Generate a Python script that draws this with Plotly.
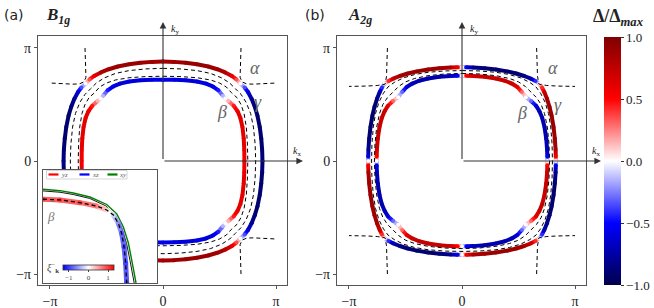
import plotly.graph_objects as go

# ---------------- data (momenta in units of pi) ----------------
# one octant of each sheet, from the k_y axis (theta = 90 deg) to the zone diagonal
gamma_a_x = [0.00, 0.10, 0.20, 0.30, 0.40, 0.48, 0.55, 0.61, 0.65, 0.685]
gamma_a_y = [0.880, 0.877, 0.869, 0.856, 0.836, 0.812, 0.784, 0.752, 0.722, 0.685]
gamma_a_gap = [0.85, 0.88, 0.90, 0.90, 0.90, 0.88, 0.80, 0.60, 0.35, 0.00]

beta_a_x = [0.00, 0.10, 0.20, 0.30, 0.38, 0.44, 0.49, 0.53, 0.552]
beta_a_y = [0.720, 0.719, 0.714, 0.703, 0.685, 0.660, 0.625, 0.578, 0.552]
beta_a_gap = [-0.55, -0.58, -0.60, -0.60, -0.60, -0.58, -0.45, -0.15, 0.00]

dash1_a_x = [0.00, 0.15, 0.30, 0.42, 0.52, 0.59, 0.64]
dash1_a_y = [0.820, 0.815, 0.800, 0.775, 0.735, 0.690, 0.640]
dash2_a_x = [0.00, 0.15, 0.30, 0.42, 0.50, 0.56, 0.605]
dash2_a_y = [0.750, 0.747, 0.737, 0.717, 0.690, 0.655, 0.605]
alpha_a_x = [0.69, 0.685, 0.68, 0.682, 0.70, 0.74, 0.80, 0.90, 1.00]
alpha_a_y = [1.00, 0.90, 0.80, 0.74, 0.70, 0.682, 0.68, 0.685, 0.69]

gamma_b_x = [0.00, 0.04, 0.10, 0.20, 0.30, 0.40, 0.48, 0.55, 0.61, 0.65, 0.685]
gamma_b_y = [0.830, 0.8297, 0.828, 0.821, 0.810, 0.793, 0.774, 0.752, 0.728, 0.708, 0.685]
gamma_b_gap = [0.00, -0.55, -0.82, -0.88, -0.90, -0.90, -0.88, -0.85, -0.72, -0.42, 0.00]

beta_b_x = [0.00, 0.04, 0.10, 0.20, 0.30, 0.38, 0.44, 0.49, 0.53, 0.565]
beta_b_y = [0.755, 0.7548, 0.753, 0.745, 0.730, 0.710, 0.685, 0.655, 0.610, 0.565]
beta_b_gap = [0.00, 0.50, 0.68, 0.72, 0.72, 0.72, 0.70, 0.62, 0.30, 0.00]

dash1_b_x = [0.00, 0.15, 0.30, 0.42, 0.52, 0.60, 0.655]
dash1_b_y = [0.800, 0.797, 0.785, 0.765, 0.735, 0.695, 0.655]
dash2_b_x = [0.00, 0.15, 0.30, 0.42, 0.50, 0.56, 0.61]
dash2_b_y = [0.775, 0.770, 0.755, 0.730, 0.700, 0.660, 0.610]
alpha_b_x = [0.66, 0.663, 0.668, 0.68, 0.75, 0.85, 1.00]
alpha_b_y = [1.00, 0.85, 0.75, 0.68, 0.668, 0.663, 0.66]

# inset (its own unit box)
inset_green_u = [0.000, 0.149, 0.266, 0.412, 0.559, 0.647, 0.705, 0.749, 0.778, 0.816]
inset_green_v = [0.829, 0.817, 0.796, 0.761, 0.695, 0.611, 0.496, 0.354, 0.204, 0.000]
inset_black_u = [0.000, 0.149, 0.266, 0.410, 0.550, 0.632, 0.690, 0.733, 0.763, 0.800]
inset_black_v = [0.815, 0.803, 0.783, 0.748, 0.683, 0.602, 0.490, 0.350, 0.200, 0.000]
inset_band_u = [0.000, 0.149, 0.325, 0.471, 0.559, 0.617, 0.661, 0.690, 0.711, 0.725, 0.734]
inset_band_v = [0.741, 0.735, 0.711, 0.681, 0.646, 0.602, 0.528, 0.440, 0.321, 0.174, 0.000]
inset_band_xi = [1.0, 1.0, 0.95, 0.70, 0.20, -0.20, -0.60, -0.85, -0.95, -1.0, -1.0]

main_ticks = [-1, 0, 1]
main_ticktext = ["\u2212\u03c0", "0", "\u03c0"]
cbar_ticks = [-1.0, -0.5, 0.0, 0.5, 1.0]
inset_cbar_ticks = [-1, 0, 1]

# ---------------- helpers ----------------
W, H = 654, 308
SEIS = [(0.0, (0, 0, 0.3)), (0.25, (0, 0, 1)), (0.5, (1, 1, 1)), (0.75, (1, 0, 0)), (1.0, (0.5, 0, 0))]
BWR = [(0.0, (0, 0, 1)), (0.5, (1, 1, 1)), (1.0, (1, 0, 0))]


def cmap(stops, t):
    t = min(max(t, 0.0), 1.0)
    for (t0, c0), (t1, c1) in zip(stops[:-1], stops[1:]):
        if t <= t1:
            f = (t - t0) / (t1 - t0)
            c = [c0[i] + f * (c1[i] - c0[i]) for i in range(3)]
            return "rgb(%d,%d,%d)" % tuple(round(255 * v) for v in c)
    c = stops[-1][1]
    return "rgb(%d,%d,%d)" % tuple(round(255 * v) for v in c)


def scale(stops):
    return [[t, cmap(stops, t)] for t, _ in stops]


def loop(xs, ys, gs=None, s_axis=1):
    if gs is None:
        gs = [0.0] * len(xs)
    oct1 = list(zip(xs, ys, gs))
    q1 = oct1 + [(y, x, -g) for (x, y, g) in reversed(oct1)][1:]
    q4 = [(x, -y, s_axis * g) for (x, y, g) in reversed(q1)][1:]
    right = q1 + q4
    left = [(-x, y, s_axis * g) for (x, y, g) in reversed(right)][1:]
    return right + left


def px(x):
    return x / W


def py(y):
    return 1 - y / H


fig = go.Figure()


def add_colored(pts, xa, ya, width, stops, vmin, vmax, opacity=1.0, showscale=False, cbar=None):
    groups = {}
    for p, q in zip(pts[:-1], pts[1:]):
        v = 0.5 * (p[2] + q[2])
        t = round((v - vmin) / (vmax - vmin) * 100) / 100
        col = cmap(stops, t)
        gx, gy = groups.setdefault(col, ([], []))
        gx += [p[0], q[0], None]
        gy += [p[1], q[1], None]
    for col, (gx, gy) in groups.items():
        fig.add_trace(go.Scatter(x=gx, y=gy, mode="lines", xaxis=xa, yaxis=ya,
                                 line=dict(color=col, width=width), opacity=opacity,
                                 hoverinfo="skip", showlegend=False))
    mk = dict(size=width, color=[p[2] for p in pts], colorscale=scale(stops),
              cmin=vmin, cmax=vmax, line=dict(width=0), showscale=showscale)
    if cbar is not None:
        mk["colorbar"] = cbar
    fig.add_trace(go.Scatter(x=[p[0] for p in pts], y=[p[1] for p in pts], mode="markers",
                             xaxis=xa, yaxis=ya, marker=mk, opacity=opacity,
                             hoverinfo="skip", showlegend=False))


def add_dashed(xs, ys, xa, ya):
    pts = loop(xs, ys)
    fig.add_trace(go.Scatter(x=[p[0] for p in pts], y=[p[1] for p in pts], mode="lines",
                             xaxis=xa, yaxis=ya, line=dict(color="black", width=1.0, dash="4px,3px"),
                             hoverinfo="skip", showlegend=False))


def add_alpha(xs, ys, xa, ya):
    for sx in (1, -1):
        for sy in (1, -1):
            fig.add_trace(go.Scatter(x=[sx * v for v in xs], y=[sy * v for v in ys], mode="lines",
                                     xaxis=xa, yaxis=ya,
                                     line=dict(color="black", width=1.0, dash="4px,3px"),
                                     hoverinfo="skip", showlegend=False))


main_cbar = dict(x=px(604), xanchor="left", y=py(161), yanchor="middle", len=248 / H,
                 lenmode="fraction", thickness=17, thicknessmode="pixels",
                 tickvals=cbar_ticks, ticktext=["%.1f" % v if v >= 0 else "\u2212%.1f" % -v for v in cbar_ticks],
                 ticks="outside", ticklen=3, tickcolor="#333",
                 tickfont=dict(family="Liberation Serif", size=13, color="#222"),
                 outlinewidth=0, xpad=0, ypad=0)

# panel (a)
add_colored(loop(gamma_a_x, gamma_a_y, gamma_a_gap, 1), "x", "y", 4, SEIS, -1, 1)
add_colored(loop(beta_a_x, beta_a_y, beta_a_gap, 1), "x", "y", 4, SEIS, -1, 1)
add_dashed(dash1_a_x, dash1_a_y, "x", "y")
add_dashed(dash2_a_x, dash2_a_y, "x", "y")
add_alpha(alpha_a_x, alpha_a_y, "x", "y")

# panel (b)
add_colored(loop(gamma_b_x, gamma_b_y, gamma_b_gap, -1), "x2", "y2", 4, SEIS, -1, 1,
            showscale=True, cbar=main_cbar)
add_colored(loop(beta_b_x, beta_b_y, beta_b_gap, -1), "x2", "y2", 4, SEIS, -1, 1)
add_dashed(dash1_b_x, dash1_b_y, "x2", "y2")
add_dashed(dash2_b_x, dash2_b_y, "x2", "y2")
add_alpha(alpha_b_x, alpha_b_y, "x2", "y2")

# inset
fig.add_trace(go.Scatter(x=inset_green_u, y=inset_green_v, mode="lines", xaxis="x3", yaxis="y3",
                         line=dict(color="green", width=1.4), hoverinfo="skip", showlegend=False))
fig.add_trace(go.Scatter(x=inset_black_u, y=inset_black_v, mode="lines", xaxis="x3", yaxis="y3",
                         line=dict(color="black", width=0.9), hoverinfo="skip", showlegend=False))
inset_cbar = dict(orientation="h", x=px(63), xanchor="left", y=py(265), yanchor="top",
                  len=51 / W, lenmode="fraction", thickness=5, thicknessmode="pixels",
                  tickvals=inset_cbar_ticks, ticktext=["\u22121", "0", "1"], ticks="outside",
                  ticklen=2, tickcolor="#444", tickfont=dict(family="Liberation Serif", size=7, color="#444"),
                  outlinewidth=0.8, outlinecolor="#333", xpad=0, ypad=0)
add_colored(list(zip(inset_band_u, inset_band_v, inset_band_xi)), "x3", "y3", 5, BWR, -1.3, 1.3,
            opacity=0.85, showscale=True, cbar=inset_cbar)
fig.add_trace(go.Scatter(x=inset_band_u, y=inset_band_v, mode="lines", xaxis="x3", yaxis="y3",
                         line=dict(color="black", width=1.3, dash="4px,3px"), hoverinfo="skip",
                         showlegend=False))

ax_common = dict(showgrid=False, zeroline=False, showline=True, mirror=True, linecolor="#555",
                 linewidth=1, ticks="outside", ticklen=3, tickcolor="#555",
                 tickvals=main_ticks, ticktext=main_ticktext,
                 tickfont=dict(family="Liberation Serif", size=14, color="#222"), fixedrange=True)
inset_ax = dict(showgrid=False, zeroline=False, showline=True, mirror=True, linecolor="#555",
                linewidth=1, showticklabels=False, ticks="", range=[0, 1], fixedrange=True)

fig.update_layout(
    width=W, height=H, margin=dict(l=0, r=0, t=0, b=0),
    paper_bgcolor="white", plot_bgcolor="white", showlegend=False,
    xaxis=dict(domain=[px(38), px(287)], range=[-1.106, 1.097], anchor="y", **ax_common),
    yaxis=dict(domain=[py(285), py(36)], range=[-1.097, 1.106], anchor="x", **ax_common),
    xaxis2=dict(domain=[px(337), px(586)], range=[-1.106, 1.097], anchor="y2", **ax_common),
    yaxis2=dict(domain=[py(285), py(36)], range=[-1.097, 1.106], anchor="x2", **ax_common),
    xaxis3=dict(domain=[px(43), px(157)], anchor="y3", **inset_ax),
    yaxis3=dict(domain=[py(283), py(170)], anchor="x3", **inset_ax),
)

ann = []


def text(x, y, s, size, family="Liberation Serif", color="#222", xanchor="center"):
    ann.append(dict(x=px(x), y=py(y), xref="paper", yref="paper", text=s, showarrow=False,
                    font=dict(family=family, size=size, color=color), xanchor=xanchor, yanchor="middle"))


def arrow(x0, y0, x1, y1):
    ann.append(dict(x=px(x1), y=py(y1), xref="paper", yref="paper", ax=x0 - x1, ay=y0 - y1,
                    axref="pixel", ayref="pixel", text=" ", showarrow=True, arrowhead=2,
                    arrowsize=1.2, arrowwidth=1.1, arrowcolor="#333", font=dict(size=1)))


# axes arrows
arrow(163, 161, 163, 22)
arrow(163, 161, 303, 161)
arrow(462, 161, 462, 22)
arrow(462, 161, 601, 161)
text(175, 30, "<i>k</i><sub>y</sub>", 10)
text(297, 151, "<i>k</i><sub>x</sub>", 10)
text(474, 30, "<i>k</i><sub>y</sub>", 10)
text(596, 151, "<i>k</i><sub>x</sub>", 10)

# panel labels
text(14, 15, "(a)", 14, family="DejaVu Sans", color="#222")
text(58, 16, "<b><i>B</i></b><sub><b><i>1g</i></b></sub>", 17)
text(315, 15, "(b)", 14, family="DejaVu Sans", color="#222")
text(360, 16, "<b><i>A</i></b><sub><b><i>2g</i></b></sub>", 17)

# sheet labels
for (x, y, s) in [(255, 68, "\u03b1"), (258, 102, "\u03b3"), (222, 112, "\u03b2"),
                  (553, 68, "\u03b1"), (558, 105, "\u03b3"), (522, 113, "\u03b2")]:
    text(x, y, "<i>%s</i>" % s, 18, color="#666")

# colorbar title
text(618, 17, "<b>\u0394/\u0394</b><sub><b><i>max</i></b></sub>", 18)

# inset labels
text(51, 216, "<i>\u03b2</i>", 13, color="#777")
text(52, 206, "\u02dc", 13, family="DejaVu Sans", color="#777")
text(53, 268, "<i>\u03be</i><sup>\u2212</sup><sub><b>k</b></sub>", 10, color="#444")

# inset legend
shapes = [dict(type="rect", xref="paper", yref="paper", x0=px(46.5), x1=px(127), y0=py(179),
               y1=py(170.5), line=dict(color="#bbb", width=0.6), fillcolor="white")]
for (x0, col, lab) in [(48.5, "red", "yz"), (79.5, "blue", "xz"), (107.5, "green", "xy")]:
    shapes.append(dict(type="line", xref="paper", yref="paper", x0=px(x0), x1=px(x0 + 10),
                       y0=py(174.5), y1=py(174.5), line=dict(color=col, width=2.2)))
    text(x0 + 15.5, 174.5, "<i>%s</i>" % lab, 7, color="#666")

fig.update_layout(annotations=ann, shapes=shapes)
fig.write_html("out.html", config={"displayModeBar": False},
               post_script="document.body.style.margin='0';document.body.style.padding='0';")
